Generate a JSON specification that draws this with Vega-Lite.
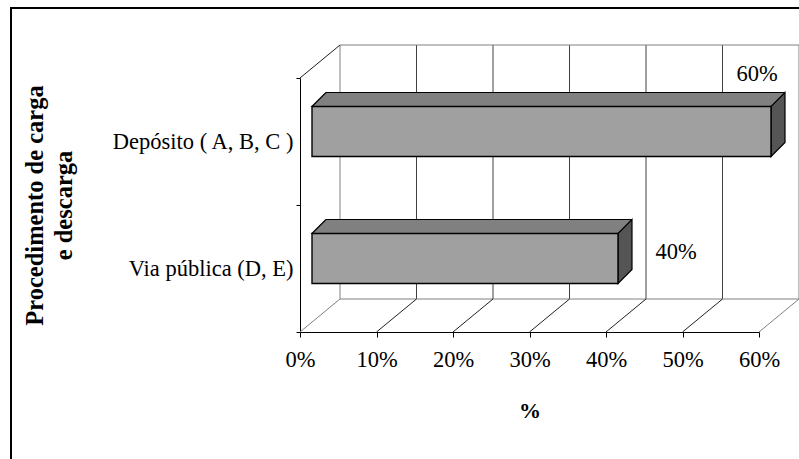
{
  "$schema": "https://vega.github.io/schema/vega-lite/v6.json",
  "width": 791,
  "height": 454,
  "autosize": {"type": "none"},
  "padding": {"left": 11, "top": 8, "right": -3, "bottom": -3},
  "background": "white",
  "config": {
    "view": {"stroke": "black", "strokeWidth": 2},
    "font": "Liberation Serif"
  },
  "datasets": {
    "bars": [
      {"procedimento": "Depósito ( A, B, C )", "share": 0.6},
      {"procedimento": "Via pública (D, E)", "share": 0.4}
    ],
    "grid": [{"p": 0}, {"p": 0.1}, {"p": 0.2}, {"p": 0.3}, {"p": 0.4}, {"p": 0.5}, {"p": 0.6}]
  },
  "resolve": {"scale": {"y": "independent"}},
  "layer": [
    {
      "data": {"name": "grid"},
      "layer": [
        {
          "transform": [{"filter": "datum.p > 0 && datum.p < 0.6"}],
          "mark": {"type": "rule", "color": "#404040", "strokeWidth": 1, "xOffset": 40, "yOffset": -33, "y2Offset": -33},
          "encoding": {
            "x": {
              "field": "p", "type": "quantitative",
              "scale": {"domain": [0, 0.6], "range": [289, 748], "nice": false, "zero": false},
              "axis": {
                "orient": "bottom", "offset": -130,
                "values": [0, 0.1, 0.2, 0.3, 0.4, 0.5, 0.6], "format": ".0%",
                "grid": false, "domainColor": "black", "domainWidth": 1,
                "tickColor": "black", "tickSize": 5, "tickWidth": 1,
                "labelFont": "Liberation Serif", "labelFontSize": 22.5, "labelColor": "black",
                "labelPadding": 11, "labelFlush": false, "labelOverlap": false,
                "title": "%", "titleFont": "Liberation Serif", "titleFontSize": 22, "titleFontWeight": "bold",
                "titleColor": "black", "titleY": 68, "titleBaseline": "top"
              }
            },
            "y": {"datum": 1, "type": "quantitative", "scale": {"domain": [0, 1], "range": [324, 70], "nice": false, "zero": false}, "axis": null},
            "y2": {"datum": 0}
          }
        },
        {
          "transform": [{"filter": "datum.p == 0 || datum.p == 0.6"}],
          "mark": {"type": "rule", "color": "#808080", "strokeWidth": 1, "xOffset": 40, "yOffset": -33, "y2Offset": -33},
          "encoding": {
            "x": {"field": "p", "type": "quantitative"},
            "y": {"datum": 1, "type": "quantitative"},
            "y2": {"datum": 0}
          }
        },
        {
          "transform": [
            {"joinaggregate": [{"op": "max", "field": "p", "as": "pmax"}]},
            {"filter": "datum.p == 0"}
          ],
          "mark": {"type": "rule", "color": "#808080", "strokeWidth": 1, "xOffset": 40, "x2Offset": 40, "yOffset": -33},
          "encoding": {
            "x": {"field": "p", "type": "quantitative"},
            "x2": {"field": "pmax"},
            "y": {"datum": 1, "type": "quantitative"}
          }
        },
        {
          "transform": [
            {"joinaggregate": [{"op": "max", "field": "p", "as": "pmax"}]},
            {"filter": "datum.p == 0"}
          ],
          "mark": {"type": "rule", "color": "#808080", "strokeWidth": 1, "xOffset": 40, "x2Offset": 40, "yOffset": -33},
          "encoding": {
            "x": {"field": "p", "type": "quantitative"},
            "x2": {"field": "pmax"},
            "y": {"datum": 0, "type": "quantitative"}
          }
        },
        {
          "transform": [{"filter": "datum.p > 0 && datum.p < 0.6"}],
          "mark": {"type": "rule", "color": "#202020", "strokeWidth": 1, "x2Offset": 40, "y2Offset": -33},
          "encoding": {
            "x": {"field": "p", "type": "quantitative"},
            "x2": {"field": "p"},
            "y": {"datum": 0, "type": "quantitative"},
            "y2": {"datum": 0}
          }
        },
        {
          "transform": [{"filter": "datum.p == 0 || datum.p == 0.6"}],
          "mark": {"type": "rule", "color": "#808080", "strokeWidth": 1, "x2Offset": 40, "y2Offset": -33},
          "encoding": {
            "x": {"field": "p", "type": "quantitative"},
            "x2": {"field": "p"},
            "y": {"datum": 0, "type": "quantitative"},
            "y2": {"datum": 0}
          }
        },
        {
          "transform": [{"filter": "datum.p == 0"}],
          "mark": {"type": "rule", "color": "#202020", "strokeWidth": 1, "x2Offset": 40, "y2Offset": -33},
          "encoding": {
            "x": {"field": "p", "type": "quantitative"},
            "x2": {"field": "p"},
            "y": {"datum": 1, "type": "quantitative"},
            "y2": {"datum": 1}
          }
        }
      ]
    },
    {
      "data": {"name": "bars"},
      "layer": [
        {
          "mark": {"type": "bar", "color": "#808080", "height": 14, "xOffset": 26, "yOffset": -42},
          "encoding": {
            "x": {"field": "share", "type": "quantitative"},
            "y": {
              "field": "procedimento", "type": "nominal",
              "scale": {"type": "band", "domain": ["Depósito ( A, B, C )", "Via pública (D, E)"], "range": [70, 324], "paddingInner": 0, "paddingOuter": 0},
              "axis": {
                "orient": "left", "offset": -289,
                "grid": false, "domainColor": "black", "domainWidth": 1,
                "tickColor": "black", "tickSize": 4, "tickWidth": 1, "tickBand": "extent",
                "labelFont": "Liberation Serif", "labelFontSize": 22.5, "labelColor": "black",
                "labelPadding": 3, "labelLimit": 400,
                "title": ["Procedimento de carga", "e descarga"],
                "titleFont": "Liberation Serif", "titleFontSize": 24.5, "titleFontWeight": "bold",
                "titleColor": "black", "titleX": -265, "titleBaseline": "middle", "titleAngle": -90,
                "titleLineHeight": 29
              }
            }
          }
        },
        {
          "mark": {"type": "bar", "color": "black", "height": 1.2, "xOffset": 26, "yOffset": -49},
          "encoding": {
            "x": {"field": "share", "type": "quantitative"},
            "y": {"field": "procedimento", "type": "nominal"}
          }
        },
        {
          "mark": {"type": "point", "shape": "M14,0 L0,0 L14,-14", "size": 4, "filled": true, "fill": "#808080", "stroke": "black", "strokeWidth": 1.2, "opacity": 1, "xOffset": 12, "yOffset": -35},
          "encoding": {
            "x": {"datum": 0, "type": "quantitative"},
            "y": {"field": "procedimento", "type": "nominal"}
          }
        },
        {
          "mark": {"type": "point", "shape": "M0,0 L14,-14 L14,36 L0,50 Z", "size": 4, "filled": true, "fill": "#555555", "stroke": "black", "strokeWidth": 1.2, "opacity": 1, "xOffset": 12, "yOffset": -35},
          "encoding": {
            "x": {"field": "share", "type": "quantitative"},
            "y": {"field": "procedimento", "type": "nominal"}
          }
        },
        {
          "mark": {"type": "bar", "fill": "#a0a0a0", "stroke": "black", "strokeWidth": 1.4, "height": 50, "xOffset": 12, "yOffset": -10},
          "encoding": {
            "x": {"field": "share", "type": "quantitative"},
            "y": {"field": "procedimento", "type": "nominal"}
          }
        },
        {
          "transform": [{"filter": "datum.procedimento == 'Depósito ( A, B, C )'"}],
          "mark": {"type": "text", "font": "Liberation Serif", "fontSize": 22.5, "color": "black", "align": "center", "baseline": "middle", "dx": -2, "dy": -68},
          "encoding": {
            "x": {"field": "share", "type": "quantitative"},
            "y": {"field": "procedimento", "type": "nominal"},
            "text": {"field": "share", "type": "quantitative", "format": ".0%"}
          }
        },
        {
          "transform": [{"filter": "datum.procedimento == 'Via pública (D, E)'"}],
          "mark": {"type": "text", "font": "Liberation Serif", "fontSize": 22.5, "color": "black", "align": "center", "baseline": "middle", "dx": 70, "dy": -17},
          "encoding": {
            "x": {"field": "share", "type": "quantitative"},
            "y": {"field": "procedimento", "type": "nominal"},
            "text": {"field": "share", "type": "quantitative", "format": ".0%"}
          }
        }
      ]
    }
  ]
}
